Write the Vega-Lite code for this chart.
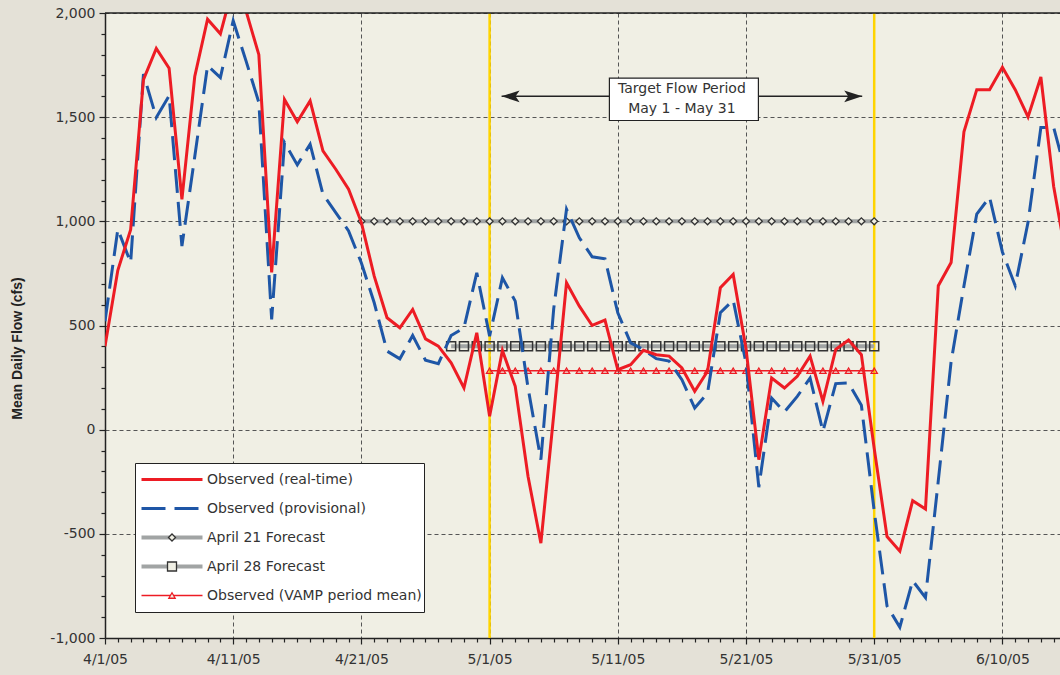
{
  "$schema": "https://vega.github.io/schema/vega-lite/v6.json",
  "width": 955,
  "height": 625,
  "autosize": {"type": "none"},
  "padding": {"left": 105, "top": 13, "right": 0, "bottom": 37},
  "background": "#e4e1d7",
  "config": {
    "view": {"fill": "#f0efe4", "stroke": null},
    "font": "DejaVu Sans",
    "axis": {
      "labelFont": "DejaVu Sans",
      "labelFontSize": 14,
      "labelColor": "#333333",
      "labelOverlap": false,
      "domainColor": "#222222",
      "domainWidth": 1.5,
      "tickColor": "#222222",
      "tickWidth": 1.2,
      "gridColor": "#555555",
      "gridDash": [4, 3],
      "gridWidth": 1
    }
  },
  "datasets": {
    "obs": [
      {"date": "2005-04-01", "realtime": 400, "provisional": 520},
      {"date": "2005-04-02", "realtime": 765, "provisional": 962},
      {"date": "2005-04-03", "realtime": 960, "provisional": 802},
      {"date": "2005-04-04", "realtime": 1680, "provisional": 1707},
      {"date": "2005-04-05", "realtime": 1830, "provisional": 1498},
      {"date": "2005-04-06", "realtime": 1735, "provisional": 1603},
      {"date": "2005-04-07", "realtime": 1105, "provisional": 881},
      {"date": "2005-04-08", "realtime": 1695, "provisional": 1310},
      {"date": "2005-04-09", "realtime": 1970, "provisional": 1747},
      {"date": "2005-04-10", "realtime": 1900, "provisional": 1690},
      {"date": "2005-04-11", "realtime": 2130, "provisional": 1963},
      {"date": "2005-04-12", "realtime": 2010, "provisional": 1770},
      {"date": "2005-04-13", "realtime": 1800, "provisional": 1571},
      {"date": "2005-04-14", "realtime": 755, "provisional": 529},
      {"date": "2005-04-15", "realtime": 1585, "provisional": 1378},
      {"date": "2005-04-16", "realtime": 1478, "provisional": 1271},
      {"date": "2005-04-17", "realtime": 1578, "provisional": 1370},
      {"date": "2005-04-18", "realtime": 1338, "provisional": 1130},
      {"date": "2005-04-19", "realtime": 1250, "provisional": 1042},
      {"date": "2005-04-20", "realtime": 1154, "provisional": 954},
      {"date": "2005-04-21", "realtime": 994, "provisional": 800, "apr21": 1000},
      {"date": "2005-04-22", "realtime": 737, "provisional": 609, "apr21": 1000},
      {"date": "2005-04-23", "realtime": 537, "provisional": 377, "apr21": 1000},
      {"date": "2005-04-24", "realtime": 489, "provisional": 340, "apr21": 1000},
      {"date": "2005-04-25", "realtime": 577, "provisional": 452, "apr21": 1000},
      {"date": "2005-04-26", "realtime": 436, "provisional": 333, "apr21": 1000},
      {"date": "2005-04-27", "realtime": 401, "provisional": 317, "apr21": 1000},
      {"date": "2005-04-28", "realtime": 321, "provisional": 452, "apr21": 1000, "apr28": 400},
      {"date": "2005-04-29", "realtime": 200, "provisional": 489, "apr21": 1000, "apr28": 400},
      {"date": "2005-04-30", "realtime": 465, "provisional": 753, "apr21": 1000, "apr28": 400},
      {"date": "2005-05-01", "realtime": 64, "provisional": 449, "apr21": 1000, "apr28": 400, "vamp": 283},
      {"date": "2005-05-02", "realtime": 380, "provisional": 729, "apr21": 1000, "apr28": 400, "vamp": 283},
      {"date": "2005-05-03", "realtime": 208, "provisional": 617, "apr21": 1000, "apr28": 400, "vamp": 283},
      {"date": "2005-05-04", "realtime": -225, "provisional": 200, "apr21": 1000, "apr28": 400, "vamp": 283},
      {"date": "2005-05-05", "realtime": -545, "provisional": -144, "apr21": 1000, "apr28": 400, "vamp": 283},
      {"date": "2005-05-06", "realtime": 70, "provisional": 580, "apr21": 1000, "apr28": 400, "vamp": 283},
      {"date": "2005-05-07", "realtime": 705, "provisional": 1058, "apr21": 1000, "apr28": 400, "vamp": 283},
      {"date": "2005-05-08", "realtime": 593, "provisional": 921, "apr21": 1000, "apr28": 400, "vamp": 283},
      {"date": "2005-05-09", "realtime": 500, "provisional": 830, "apr21": 1000, "apr28": 400, "vamp": 283},
      {"date": "2005-05-10", "realtime": 526, "provisional": 820, "apr21": 1000, "apr28": 400, "vamp": 283},
      {"date": "2005-05-11", "realtime": 288, "provisional": 561, "apr21": 1000, "apr28": 400, "vamp": 283},
      {"date": "2005-05-12", "realtime": 312, "provisional": 417, "apr21": 1000, "apr28": 400, "vamp": 283},
      {"date": "2005-05-13", "realtime": 381, "provisional": 385, "apr21": 1000, "apr28": 400, "vamp": 283},
      {"date": "2005-05-14", "realtime": 360, "provisional": 341, "apr21": 1000, "apr28": 400, "vamp": 283},
      {"date": "2005-05-15", "realtime": 353, "provisional": 329, "apr21": 1000, "apr28": 400, "vamp": 283},
      {"date": "2005-05-16", "realtime": 296, "provisional": 240, "apr21": 1000, "apr28": 400, "vamp": 283},
      {"date": "2005-05-17", "realtime": 184, "provisional": 104, "apr21": 1000, "apr28": 400, "vamp": 283},
      {"date": "2005-05-18", "realtime": 280, "provisional": 176, "apr21": 1000, "apr28": 400, "vamp": 283},
      {"date": "2005-05-19", "realtime": 681, "provisional": 561, "apr21": 1000, "apr28": 400, "vamp": 283},
      {"date": "2005-05-20", "realtime": 745, "provisional": 622, "apr21": 1000, "apr28": 400, "vamp": 283},
      {"date": "2005-05-21", "realtime": 390, "provisional": 320, "apr21": 1000, "apr28": 400, "vamp": 283},
      {"date": "2005-05-22", "realtime": -144, "provisional": -276, "apr21": 1000, "apr28": 400, "vamp": 283},
      {"date": "2005-05-23", "realtime": 248, "provisional": 152, "apr21": 1000, "apr28": 400, "vamp": 283},
      {"date": "2005-05-24", "realtime": 200, "provisional": 85, "apr21": 1000, "apr28": 400, "vamp": 283},
      {"date": "2005-05-25", "realtime": 256, "provisional": 160, "apr21": 1000, "apr28": 400, "vamp": 283},
      {"date": "2005-05-26", "realtime": 353, "provisional": 248, "apr21": 1000, "apr28": 400, "vamp": 283},
      {"date": "2005-05-27", "realtime": 136, "provisional": -8, "apr21": 1000, "apr28": 400, "vamp": 283},
      {"date": "2005-05-28", "realtime": 385, "provisional": 221, "apr21": 1000, "apr28": 400, "vamp": 283},
      {"date": "2005-05-29", "realtime": 430, "provisional": 224, "apr21": 1000, "apr28": 400, "vamp": 283},
      {"date": "2005-05-30", "realtime": 360, "provisional": 117, "apr21": 1000, "apr28": 400, "vamp": 283},
      {"date": "2005-05-31", "realtime": -90, "provisional": -390, "apr21": 1000, "apr28": 400, "vamp": 283},
      {"date": "2005-06-01", "realtime": -513, "provisional": -846},
      {"date": "2005-06-02", "realtime": -583, "provisional": -948},
      {"date": "2005-06-03", "realtime": -341, "provisional": -725},
      {"date": "2005-06-04", "realtime": -381, "provisional": -806},
      {"date": "2005-06-05", "realtime": 691, "provisional": -245},
      {"date": "2005-06-06", "realtime": 802, "provisional": 327},
      {"date": "2005-06-07", "realtime": 1430, "provisional": 690},
      {"date": "2005-06-08", "realtime": 1632, "provisional": 1035},
      {"date": "2005-06-09", "realtime": 1632, "provisional": 1116},
      {"date": "2005-06-10", "realtime": 1740, "provisional": 853},
      {"date": "2005-06-11", "realtime": 1632, "provisional": 691},
      {"date": "2005-06-12", "realtime": 1501, "provisional": 995},
      {"date": "2005-06-13", "realtime": 1693, "provisional": 1450},
      {"date": "2005-06-14", "realtime": 1167, "provisional": 1450},
      {"date": "2005-06-15", "realtime": 820, "provisional": 1220}
    ],
    "period": [
      {"start": "2005-05-01", "end": "2005-05-31", "mid": "2005-05-16", "flow": 1600, "label": "Target Flow Period\nMay 1 - May 31"}
    ]
  },
  "layer": [
    {
      "data": {"name": "period"},
      "mark": {"type": "rule", "color": "#ffd400", "strokeWidth": 2.5},
      "encoding": {
        "x": {
          "field": "start", "type": "temporal",
          "scale": {"type": "utc", "domain": [{"year": 2005, "month": 4, "date": 1, "utc": true}, {"year": 2005, "month": 6, "date": 14, "hours": 11, "minutes": 50, "utc": true}]},
          "axis": {
            "title": null,
            "tickCount": {"interval": "day", "step": 1},
            "labelExpr": "round((datum.value - utc(2005, 3, 1)) / 86400000) % 10 === 0 ? utcFormat(datum.value, '%-m/%-d/%y') : ''",
            "labelOverlap": false,
            "labelFlush": false,
            "labelPadding": 8,
            "tickSize": {"condition": {"test": "round((datum.value - utc(2005, 3, 1)) / 86400000) % 10 === 0", "value": 6}, "value": 4},
            "grid": true,
            "gridOpacity": {"condition": {"test": "round((datum.value - utc(2005, 3, 1)) / 86400000) % 10 === 0", "value": 1}, "value": 0}
          }
        }
      }
    },
    {
      "data": {"name": "period"},
      "mark": {"type": "rule", "color": "#ffd400", "strokeWidth": 2.5},
      "encoding": {"x": {"field": "end", "type": "temporal", "scale": {"type": "utc"}}}
    },
    {
      "data": {"name": "obs"},
      "mark": {"type": "line", "strokeWidth": 4, "clip": true},
      "encoding": {
        "x": {"field": "date", "type": "temporal", "scale": {"type": "utc"}},
        "y": {
          "field": "apr21", "type": "quantitative",
          "scale": {"domain": [-1000, 2000], "nice": false, "zero": false},
          "axis": {
            "title": "Mean Daily Flow (cfs)",
            "tickCount": 30,
            "labelExpr": "datum.value % 500 === 0 ? replace(format(datum.value, ','), '\u2212', '-') : ''",
            "labelOverlap": false,
            "labelPadding": 4,
            "tickSize": {"condition": {"test": "datum.value % 500 === 0", "value": 6}, "value": 4},
            "grid": true,
            "gridOpacity": {"condition": {"test": "datum.value % 500 === 0", "value": 1}, "value": 0},
            "titleFont": "Liberation Sans",
            "titleFontSize": 14,
            "titleFontWeight": "bold",
            "titleColor": "#222222",
            "titleAngle": 270,
            "titleAlign": "center",
            "titleBaseline": "middle",
            "titleX": -87.5,
            "titleY": 335
          }
        },
        "color": {
          "datum": "April 21 Forecast", "type": "nominal",
          "scale": {"domain": ["Observed (real-time)", "Observed (provisional)", "April 21 Forecast", "April 28 Forecast", "Observed (VAMP period mean)"], "range": ["#ed1c24", "#1e56a6", "#a1a4a4", "#a1a4a4", "#ed1c24"]},
          "legend": {
            "title": null,
            "orient": "none",
            "legendX": 30,
            "legendY": 450,
            "symbolType": "stroke",
            "symbolSize": 3721,
            "symbolStrokeWidth": {"expr": "datum.value === 'Observed (VAMP period mean)' ? 1.5 : (datum.value === 'April 21 Forecast' || datum.value === 'April 28 Forecast' ? 4 : 3)"},
            "symbolDash": {"expr": "datum.value === 'Observed (provisional)' ? [24, 9] : [1, 0]"},
            "clipHeight": 29,
            "rowPadding": 0,
            "padding": 2,
            "symbolOffset": 28,
            "labelOffset": 28,
            "labelFont": "DejaVu Sans",
            "labelFontSize": 14,
            "labelColor": "#333333",
            "labelLimit": 400,
            "fillColor": "#ffffff",
            "strokeColor": "#222222",
            "zindex": 1
          }
        }
      }
    },
    {
      "data": {"name": "obs"},
      "mark": {"type": "line", "strokeWidth": 4, "clip": true},
      "encoding": {
        "x": {"field": "date", "type": "temporal", "scale": {"type": "utc"}},
        "y": {"field": "apr28", "type": "quantitative"},
        "color": {"datum": "April 28 Forecast", "type": "nominal"}
      }
    },
    {
      "data": {"name": "obs"},
      "mark": {"type": "point", "filled": true, "fill": "#f0efe4", "size": 49, "strokeWidth": 1.3, "opacity": 1, "clip": true},
      "encoding": {
        "x": {"field": "date", "type": "temporal", "scale": {"type": "utc"}},
        "y": {"field": "apr21", "type": "quantitative"},
        "shape": {
          "datum": "April 21 Forecast", "type": "nominal",
          "scale": {"domain": ["April 21 Forecast", "April 28 Forecast", "Observed (VAMP period mean)"], "range": ["diamond", "square", "triangle-up"]},
          "legend": {
            "title": null, "orient": "none", "legendX": 30, "legendY": 510,
            "padding": 0, "clipHeight": 29, "rowPadding": 0, "symbolOffset": 33,
            "labelExpr": "''", "labelFontSize": 1,
            "symbolSize": {"expr": "datum.value === 'April 28 Forecast' ? 81 : (datum.value === 'April 21 Forecast' ? 49 : 40)"},
            "symbolStrokeWidth": 1.3,
            "symbolFillColor": {"expr": "datum.value === 'April 21 Forecast' ? '#ffffff' : 'transparent'"},
            "zindex": 2
          }
        },
        "stroke": {
          "datum": "April 21 Forecast", "type": "nominal",
          "scale": {"domain": ["April 21 Forecast", "April 28 Forecast", "Observed (VAMP period mean)"], "range": ["#333333", "#333333", "#ed1c24"]},
          "legend": {
            "title": null, "orient": "none", "legendX": 30, "legendY": 510,
            "padding": 0, "clipHeight": 29, "rowPadding": 0, "symbolOffset": 33,
            "labelExpr": "''", "labelFontSize": 1,
            "symbolSize": {"expr": "datum.value === 'April 28 Forecast' ? 81 : (datum.value === 'April 21 Forecast' ? 49 : 40)"},
            "symbolStrokeWidth": 1.3,
            "symbolFillColor": {"expr": "datum.value === 'April 21 Forecast' ? '#ffffff' : 'transparent'"},
            "zindex": 2
          }
        }
      }
    },
    {
      "data": {"name": "obs"},
      "mark": {"type": "point", "filled": false, "size": 81, "strokeWidth": 1.5, "opacity": 1, "clip": true},
      "encoding": {
        "x": {"field": "date", "type": "temporal", "scale": {"type": "utc"}},
        "y": {"field": "apr28", "type": "quantitative"},
        "shape": {"datum": "April 28 Forecast", "type": "nominal"},
        "stroke": {"datum": "April 28 Forecast", "type": "nominal"}
      }
    },
    {
      "data": {"name": "obs"},
      "mark": {"type": "line", "strokeWidth": 1.5, "clip": true},
      "encoding": {
        "x": {"field": "date", "type": "temporal", "scale": {"type": "utc"}},
        "y": {"field": "vamp", "type": "quantitative"},
        "color": {"datum": "Observed (VAMP period mean)", "type": "nominal"}
      }
    },
    {
      "data": {"name": "obs"},
      "mark": {"type": "point", "filled": false, "size": 40, "strokeWidth": 1.3, "opacity": 1, "clip": true},
      "encoding": {
        "x": {"field": "date", "type": "temporal", "scale": {"type": "utc"}},
        "y": {"field": "vamp", "type": "quantitative"},
        "shape": {"datum": "Observed (VAMP period mean)", "type": "nominal"},
        "stroke": {"datum": "Observed (VAMP period mean)", "type": "nominal"}
      }
    },
    {
      "data": {"name": "obs"},
      "mark": {"type": "line", "strokeWidth": 3, "strokeDash": [24, 9], "clip": true},
      "encoding": {
        "x": {"field": "date", "type": "temporal", "scale": {"type": "utc"}},
        "y": {"field": "provisional", "type": "quantitative"},
        "color": {"datum": "Observed (provisional)", "type": "nominal"}
      }
    },
    {
      "data": {"name": "obs"},
      "mark": {"type": "line", "strokeWidth": 3, "clip": true},
      "encoding": {
        "x": {"field": "date", "type": "temporal", "scale": {"type": "utc"}},
        "y": {"field": "realtime", "type": "quantitative"},
        "color": {"datum": "Observed (real-time)", "type": "nominal"}
      }
    },
    {
      "data": {"values": [{}]},
      "mark": {"type": "rule", "color": "#222222", "strokeWidth": 1.5},
      "encoding": {"y": {"datum": 2000, "type": "quantitative"}}
    },
    {
      "data": {"name": "period"},
      "mark": {"type": "rule", "color": "#222222", "strokeWidth": 1.5, "xOffset": 12, "x2Offset": -12},
      "encoding": {
        "x": {"field": "start", "type": "temporal", "scale": {"type": "utc"}},
        "x2": {"field": "end"},
        "y": {"field": "flow", "type": "quantitative"}
      }
    },
    {
      "data": {"name": "period"},
      "mark": {"type": "point", "shape": "M-1,0L1,-0.65L0.55,0L1,0.65Z", "size": 324, "filled": true, "color": "#222222", "opacity": 1, "strokeWidth": 0, "xOffset": 21},
      "encoding": {
        "x": {"field": "start", "type": "temporal", "scale": {"type": "utc"}},
        "y": {"field": "flow", "type": "quantitative"}
      }
    },
    {
      "data": {"name": "period"},
      "mark": {"type": "point", "shape": "M1,0L-1,-0.65L-0.55,0L-1,0.65Z", "size": 324, "filled": true, "color": "#222222", "opacity": 1, "strokeWidth": 0, "xOffset": -21},
      "encoding": {
        "x": {"field": "end", "type": "temporal", "scale": {"type": "utc"}},
        "y": {"field": "flow", "type": "quantitative"}
      }
    },
    {
      "data": {"name": "period"},
      "mark": {"type": "point", "shape": "M-1,-0.284H1V0.284H-1Z", "size": 22201, "filled": true, "fill": "#ffffff", "stroke": "#222222", "strokeWidth": 1.2, "opacity": 1, "xOffset": 2, "yOffset": 3},
      "encoding": {
        "x": {"field": "mid", "type": "temporal", "scale": {"type": "utc"}},
        "y": {"field": "flow", "type": "quantitative"}
      }
    },
    {
      "data": {"name": "period"},
      "mark": {"type": "text", "lineBreak": "\n", "align": "center", "baseline": "middle", "font": "DejaVu Sans", "fontSize": 14, "lineHeight": 20, "color": "#333333", "yOffset": -7},
      "encoding": {
        "x": {"field": "mid", "type": "temporal", "scale": {"type": "utc"}},
        "y": {"field": "flow", "type": "quantitative"},
        "text": {"field": "label"}
      }
    }
  ]
}
